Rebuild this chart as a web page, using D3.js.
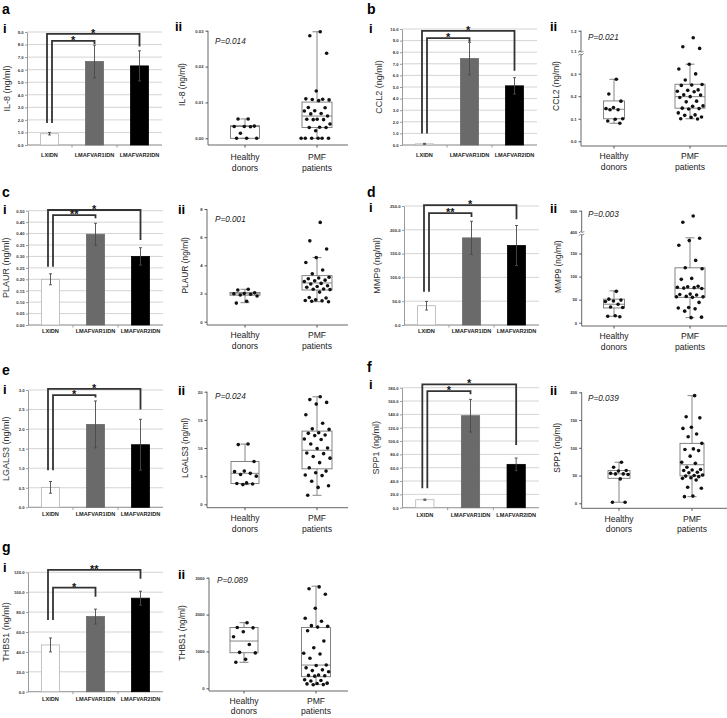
<!DOCTYPE html>
<html><head><meta charset="utf-8">
<script src="https://cdn.jsdelivr.net/npm/d3@7"></script>
<style>body{margin:0;background:#fff}svg{display:block}</style>
</head><body>
<svg id="fig" width="727" height="718"></svg>
<script>
// ---------------- DATA ----------------
const barCategories = ["LXIDN", "LMAFVAR1IDN", "LMAFVAR2IDN"];
const boxGroups = ["Healthy donors", "PMF patients"];
const boxGroupLines = [["Healthy", "donors"], ["PMF", "patients"]];

// a: IL-8
const il8Means = [0.9, 6.65, 6.3];
const il8Errors = [0.1, 1.3, 1.2];
const il8Brackets = [[0, 2, 1.75, 8.85, 7.85, "*"], [0, 1, 1.75, 8.3, 8.05, "*"]];
const il8BarTicks = [0, 1, 2, 3, 4, 5, 6, 7, 8, 9];
const il8Healthy = [0.0054, 0.0054, 0.0034, 0.0033, 0.0033, 0.0032, 0.0014, 0, 0, 0];
const il8Pmf = [0.0297, 0.0286, 0.0237, 0.0132, 0.011, 0.0109, 0.0108, 0.0107, 0.0105, 0.0086, 0.0085, 0.0077, 0.0076, 0.0069, 0.0068, 0.0062, 0.0053, 0.0053, 0.0052, 0.0052, 0.004, 0.0031, 0.003, 0.003, 0.0021, 0, 0, 0, 0, 0, 0];
const il8HealthyBox = [0, 0, 0.0033, 0.0035, 0.0054];
const il8PmfBox = [0, 0.003, 0.0062, 0.0101, 0.0297];
const il8BoxTicks = [0, 0.01, 0.02, 0.03];

// b: CCL2
const ccl2Means = [0.1, 7.45, 5.1];
const ccl2Errors = [0.04, 1.4, 0.7];
const ccl2Brackets = [[0, 2, 1.0, 9.83, 6.4, "*"], [0, 1, 1.0, 9.22, 8.9, "*"]];
const ccl2BarTicks = [0, 1, 2, 3, 4, 5, 6, 7, 8, 9, 10];
const ccl2Healthy = [0.275, 0.21, 0.178, 0.15, 0.145, 0.14, 0.14, 0.1, 0.098, 0.09, 0.08];
const ccl2Pmf = [1.165, 1.12, 1.112, 0.342, 0.321, 0.299, 0.272, 0.252, 0.25, 0.248, 0.228, 0.226, 0.222, 0.22, 0.206, 0.205, 0.198, 0.194, 0.178, 0.175, 0.157, 0.155, 0.147, 0.145, 0.143, 0.126, 0.117, 0.115, 0.108, 0.106, 0.1, 0.099];
const ccl2HealthyBox = [0.08, 0.1, 0.142, 0.179, 0.275];
const ccl2PmfBox = [0.1, 0.147, 0.198, 0.253, 0.342];
const ccl2BoxTicks = [0, 0.1, 0.2, 0.3, 1.1, 1.2];
const ccl2BoxBreak = [0, 0.39, 1.09, 1.2];

// c: PLAUR
const plaurMeans = [0.2, 0.397, 0.3];
const plaurErrors = [0.024, 0.048, 0.038];
const plaurBrackets = [[0, 2, 0.255, 0.503, 0.372, "*"], [0, 1, 0.255, 0.481, 0.467, "**"]];
const plaurBarTicks = [0, 0.05, 0.1, 0.15, 0.2, 0.25, 0.3, 0.35, 0.4, 0.45, 0.5];
const plaurHealthy = [2.3, 2.25, 2.05, 2.0, 1.98, 1.95, 1.9, 1.82, 1.45, 1.32];
const plaurPmf = [7.05, 5.74, 5.16, 4.55, 4.2, 3.67, 3.4, 3.15, 3.1, 3.05, 2.95, 2.9, 2.85, 2.72, 2.68, 2.55, 2.5, 2.45, 2.32, 2.3, 2.28, 2.1, 1.72, 1.68, 1.55, 1.5, 1.48, 1.45, 1.42];
const plaurHealthyBox = [1.35, 1.88, 1.98, 2.08, 2.3];
const plaurPmfBox = [1.42, 2.25, 2.75, 3.27, 4.55];
const plaurBoxTicks = [0, 2, 4, 6, 8];

// d: MMP9
const mmp9Means = [40.5, 183, 167];
const mmp9Errors = [9, 35, 42];
const mmp9Brackets = [[0, 2, 70, 252, 222, "*"], [0, 1, 70, 235, 227, "**"]];
const mmp9BarTicks = [0, 50, 100, 150, 200, 250];
const mmp9Healthy = [68, 51, 49, 47, 46, 40, 34, 33, 15, 14, 13];
const mmp9Pmf = [475, 446, 183, 178, 168, 135, 119, 117, 96, 94, 79, 78, 77, 76, 75, 74, 62, 61, 60, 57, 56, 56, 55, 44, 33, 32, 30, 25, 12, 11];
const mmp9HealthyBox = [14, 32, 40, 51, 69];
const mmp9PmfBox = [11, 55, 74, 119, 184];
const mmp9BoxTicks = [0, 50, 100, 150, 400, 500];
const mmp9BoxBreak = [0, 193, 395, 500];

// e: LGALS3
const lgals3Means = [0.51, 2.12, 1.6];
const lgals3Errors = [0.15, 0.6, 0.65];
const lgals3Brackets = [[0, 2, 0.95, 3.03, 2.5, "*"], [0, 1, 0.95, 2.87, 2.81, "*"]];
const lgals3BarTicks = [0, 0.5, 1, 1.5, 2, 2.5, 3];
const lgals3Healthy = [10.7, 10.6, 7.6, 5.9, 5.8, 5.5, 5.3, 5.0, 3.8, 3.7, 3.6, 3.5];
const lgals3Pmf = [19.1, 18.6, 18.1, 17.8, 15.9, 14.4, 13.4, 13.3, 12.7, 12.6, 12.3, 12.2, 11.6, 11.5, 10.7, 10.0, 9.9, 9.1, 9.0, 8.5, 8.2, 7.4, 6.5, 5.9, 5.6, 5.2, 5.1, 4.1, 3.3, 3.0, 1.6];
const lgals3HealthyBox = [3.5, 3.7, 5.5, 7.6, 10.7];
const lgals3PmfBox = [1.6, 6.3, 9.6, 13.0, 19.1];
const lgals3BoxTicks = [0, 5, 10, 15, 20];

// f: SPP1
const spp1Means = [12, 138, 65];
const spp1Errors = [1, 24.5, 9.5];
const spp1Brackets = [[0, 2, 29, 185, 94, "*"], [0, 1, 29, 175, 170, "*"]];
const spp1BarTicks = [0, 20, 40, 60, 80, 100, 120, 140, 160, 180];
const spp1Healthy = [74, 65, 59, 58, 54, 53, 53, 52, 44, 2, 2];
const spp1Pmf = [194, 156, 154, 137, 135, 125, 120, 108, 98, 97, 95, 85, 74, 72, 65, 61, 60, 59, 56, 55, 51, 50, 49, 48, 46, 45, 42, 29, 27, 13, 12];
const spp1HealthyBox = [2, 45, 53, 59, 74];
const spp1PmfBox = [12, 49.5, 69.5, 108, 194];
const spp1BoxTicks = [0, 50, 100, 150, 200];

// g: THBS1
const thbs1Means = [47, 75.5, 94];
const thbs1Errors = [7, 7.5, 7];
const thbs1Brackets = [[0, 2, 72, 122.5, 113.5, "**"], [0, 1, 72, 104.5, 95.5, "*"]];
const thbs1BarTicks = [0, 20, 40, 60, 80, 100, 120];
const thbs1Healthy = [1780, 1650, 1640, 1535, 1400, 1190, 975, 960, 785, 705];
const thbs1Pmf = [2750, 2700, 2550, 2170, 1900, 1820, 1700, 1680, 1660, 1560, 1282, 1100, 950, 930, 815, 630, 620, 555, 500, 480, 450, 360, 350, 340, 330, 230, 210, 200, 140, 130, 120, 100, 95];
const thbs1HealthyBox = [705, 965, 1282, 1650, 1780];
const thbs1PmfBox = [100, 315, 630, 1650, 2770];
const thbs1BoxTicks = [0, 1000, 2000, 3000];

// ---------------- LAYOUT ----------------
const FONT = "'Liberation Sans', Arial, Helvetica, sans-serif";
const panels = [
  { id: "a", means: il8Means, errors: il8Errors, brackets: il8Brackets, barTicks: il8BarTicks, barFmt: ".1f", label: "IL-8 (ng/ml)",
    healthy: il8Healthy, pmf: il8Pmf, hBox: il8HealthyBox, pBox: il8PmfBox, boxTicks: il8BoxTicks, boxFmt: ".2f", brk: null, p: "P=0.014",
    L: { letter: [2, 14], i: [3, 33], ii: [175, 31], bx0: 27, bx1: 162, bTop: 32, bBot: 145, catY: 157, bYl: 7,
         ax: 208, xEnd: 348, tTop: 30.7, tBot: 138.3, xAy: 145, cx: [245, 317], bw: [29, 30], labY: 160, boxYl: 182, pPos: [215, 44] } },
  { id: "b", means: ccl2Means, errors: ccl2Errors, brackets: ccl2Brackets, barTicks: ccl2BarTicks, barFmt: ".1f", label: "CCL2 (ng/ml)",
    healthy: ccl2Healthy, pmf: ccl2Pmf, hBox: ccl2HealthyBox, pBox: ccl2PmfBox, boxTicks: ccl2BoxTicks, boxFmt: ".1f", brk: ccl2BoxBreak, p: "P=0.021",
    L: { letter: [367, 14], i: [369, 33], ii: [550, 31], bx0: 402, bx1: 537, bTop: 29, bBot: 145, catY: 157, bYl: 379,
         ax: 581, xEnd: 727, tTop: 30.7, tBot: 141.3, xAy: 146, cx: [614, 690], bw: [21, 30], labY: 159, boxYl: 556, pPos: [588, 40] } },
  { id: "c", means: plaurMeans, errors: plaurErrors, brackets: plaurBrackets, barTicks: plaurBarTicks, barFmt: ".2f", label: "PLAUR (ng/ml)",
    healthy: plaurHealthy, pmf: plaurPmf, hBox: plaurHealthyBox, pBox: plaurPmfBox, boxTicks: plaurBoxTicks, boxFmt: "d", brk: null, p: "P=0.001",
    L: { letter: [2, 197], i: [3, 214], ii: [178, 214], bx0: 28, bx1: 163, bTop: 210.7, bBot: 325, catY: 333, bYl: 6,
         ax: 207, xEnd: 348, tTop: 209, tBot: 321.7, xAy: 325, cx: [245, 317], bw: [30, 30], labY: 338, boxYl: 185, pPos: [215, 222] } },
  { id: "d", means: mmp9Means, errors: mmp9Errors, brackets: mmp9Brackets, barTicks: mmp9BarTicks, barFmt: ".1f", label: "MMP9 (ng/ml)",
    healthy: mmp9Healthy, pmf: mmp9Pmf, hBox: mmp9HealthyBox, pBox: mmp9PmfBox, boxTicks: mmp9BoxTicks, boxFmt: "d", brk: mmp9BoxBreak, p: "P=0.003",
    L: { letter: [367, 197], i: [369, 212], ii: [550, 213], bx0: 404, bx1: 539, bTop: 206, bBot: 325, catY: 333, bYl: 377,
         ax: 581.7, xEnd: 727, tTop: 210.7, tBot: 322.7, xAy: 326, cx: [614, 690], bw: [21, 30], labY: 339, boxYl: 558, pPos: [588, 217] } },
  { id: "e", means: lgals3Means, errors: lgals3Errors, brackets: lgals3Brackets, barTicks: lgals3BarTicks, barFmt: ".1f", label: "LGALS3 (ng/ml)",
    healthy: lgals3Healthy, pmf: lgals3Pmf, hBox: lgals3HealthyBox, pBox: lgals3PmfBox, boxTicks: lgals3BoxTicks, boxFmt: "d", brk: null, p: "P=0.024",
    L: { letter: [2, 375], i: [3, 394], ii: [178, 395], bx0: 28, bx1: 163, bTop: 390, bBot: 507.3, catY: 515.5, bYl: 6,
         ax: 207, xEnd: 348, tTop: 391.7, tBot: 504.3, xAy: 507.7, cx: [245, 317], bw: [28, 30], labY: 521, boxYl: 185, pPos: [215, 399] } },
  { id: "f", means: spp1Means, errors: spp1Errors, brackets: spp1Brackets, barTicks: spp1BarTicks, barFmt: ".1f", label: "SPP1 (ng/ml)",
    healthy: spp1Healthy, pmf: spp1Pmf, hBox: spp1HealthyBox, pBox: spp1PmfBox, boxTicks: spp1BoxTicks, boxFmt: "d", brk: null, p: "P=0.039",
    L: { letter: [367, 372], i: [369, 389], ii: [550, 395], bx0: 402, bx1: 539, bTop: 387.7, bBot: 507.7, catY: 516.5, bYl: 376,
         ax: 581.7, xEnd: 727, tTop: 392.3, tBot: 503.3, xAy: 508.3, cx: [619, 692], bw: [22, 24], labY: 521.5, boxYl: 557, pPos: [588, 401] } },
  { id: "g", means: thbs1Means, errors: thbs1Errors, brackets: thbs1Brackets, barTicks: thbs1BarTicks, barFmt: ".1f", label: "THBS1 (ng/ml)",
    healthy: thbs1Healthy, pmf: thbs1Pmf, hBox: thbs1HealthyBox, pBox: thbs1PmfBox, boxTicks: thbs1BoxTicks, boxFmt: "d", brk: null, p: "P=0.089",
    L: { letter: [2, 552], i: [3, 572], ii: [178, 579], bx0: 28, bx1: 163, bTop: 572.3, bBot: 691.7, catY: 700.5, bYl: 6,
         ax: 209, xEnd: 348, tTop: 577.7, tBot: 688.3, xAy: 691, cx: [244, 316], bw: [28, 29], labY: 703.5, boxYl: 182, pPos: [217, 583] } }
];

const barFills = ["#ffffff", "#6a6a6a", "#000000"];
const barStrokes = ["#b5b5b5", "#6a6a6a", "#000000"];

const svg = d3.select("#fig").attr("font-family", FONT);
svg.append("rect").attr("width", 727).attr("height", 718).attr("fill", "#fff");

function swarm(values, y, half, r) {
  const pts = values.map(v => ({ v, y: y(v) }));
  const order = pts.slice().sort((a, b) => a.y - b.y);
  const placed = [];
  const minD = 2 * r + 0.3;
  order.forEach((p, k) => {
    const pref = ((((k + 1) * 0.618034) % 1) - 0.5) * 2 * half * 0.85;
    let best = pref;
    for (let s = 0; s <= 80; s++) {
      const off = pref + (s % 2 ? 1 : -1) * Math.ceil(s / 2) * 0.6;
      if (Math.abs(off) > half) continue;
      if (placed.every(q => (q.x - off) ** 2 + (q.y - p.y) ** 2 >= minD * minD)) { best = off; break; }
    }
    p.x = best;
    placed.push(p);
  });
  return pts;
}

function drawBar(g, P) {
  const L = P.L;
  const maxV = d3.max(P.barTicks);
  const y = d3.scaleLinear().domain([0, maxV]).range([L.bBot, L.bTop]);
  const x = d3.scaleBand().domain(barCategories).range([L.bx0, L.bx1]);
  const bw = x.bandwidth();

  // gridlines
  g.append("g").selectAll("line").data(P.barTicks).join("line")
    .attr("x1", L.bx0).attr("x2", L.bx1)
    .attr("y1", d => y(d)).attr("y2", d => y(d))
    .attr("stroke", "#cfcfcf").attr("stroke-width", 0.9);

  // y axis
  const ya = g.append("g").attr("transform", `translate(${L.bx0},0)`)
    .call(d3.axisLeft(y).tickValues(P.barTicks).tickFormat(d3.format(P.barFmt)).tickSize(2).tickSizeOuter(0).tickPadding(1.5));
  ya.select(".domain").attr("stroke", "#9a9a9a");
  ya.selectAll(".tick line").attr("stroke", "#9a9a9a");
  ya.selectAll(".tick text").attr("font-size", 4.2).attr("font-weight", "bold").attr("fill", "#333").attr("font-family", FONT);

  // x axis baseline with boundary ticks
  g.append("line").attr("x1", L.bx0).attr("x2", L.bx1).attr("y1", L.bBot).attr("y2", L.bBot)
    .attr("stroke", "#9a9a9a").attr("stroke-width", 1);
  g.append("g").selectAll("line").data(barCategories.slice(1)).join("line")
    .attr("x1", d => x(d)).attr("x2", d => x(d))
    .attr("y1", L.bBot).attr("y2", L.bBot + 2.5).attr("stroke", "#9a9a9a");
  g.append("g").selectAll("text").data(barCategories).join("text")
    .attr("x", d => x(d) + bw / 2).attr("y", L.catY)
    .attr("text-anchor", "middle").attr("font-size", 5.6).attr("font-weight", "bold").attr("fill", "#222")
    .text(d => d);

  // bars
  g.append("g").selectAll("rect").data(P.means).join("rect")
    .attr("x", (d, i) => x(barCategories[i]) + bw * 0.3)
    .attr("width", bw * 0.4)
    .attr("y", d => y(d))
    .attr("height", d => L.bBot - y(d))
    .attr("fill", (d, i) => barFills[i])
    .attr("stroke", (d, i) => barStrokes[i]).attr("stroke-width", 0.8);

  // error bars
  const eb = g.append("g").attr("stroke", "#4a4a4a").attr("stroke-width", 0.9);
  P.means.forEach((m, i) => {
    const cx = x(barCategories[i]) + bw / 2;
    const e = P.errors[i];
    eb.append("line").attr("x1", cx).attr("x2", cx).attr("y1", y(m - e)).attr("y2", y(m + e));
    eb.append("line").attr("x1", cx - 1.5).attr("x2", cx + 1.5).attr("y1", y(m + e)).attr("y2", y(m + e));
    eb.append("line").attr("x1", cx - 1.5).attr("x2", cx + 1.5).attr("y1", y(m - e)).attr("y2", y(m - e));
  });

  // significance brackets
  P.brackets.forEach(b => {
    const [from, to, start, top, end, lab] = b;
    const c0 = x(barCategories[from]) + bw / 2 + (to === 2 ? -2.5 : 2.5);
    const c1 = x(barCategories[to]) + bw / 2;
    g.append("path")
      .attr("d", `M${c0},${y(start)}V${y(top)}H${c1}V${y(end)}`)
      .attr("fill", "none").attr("stroke", "#333").attr("stroke-width", 1.8);
    g.append("text").attr("x", (c0 + c1) / 2).attr("y", y(top) + 3)
      .attr("text-anchor", "middle").attr("font-size", 11).attr("font-weight", "bold").attr("fill", "#111")
      .text(lab);
  });

  // y label
  g.append("text").attr("transform", `translate(${L.bYl},${(L.bTop + L.bBot) / 2}) rotate(-90)`)
    .attr("text-anchor", "middle").attr("dominant-baseline", "central")
    .attr("font-size", 9).attr("fill", "#333").text(P.label);
}

function drawBox(g, P) {
  const L = P.L;
  let y;
  if (P.brk) {
    const fr = [0, 0.795, 0.80, 1];
    y = d3.scaleLinear().domain(P.brk).range(fr.map(f => L.tBot + (L.tTop - L.tBot) * f));
  } else {
    y = d3.scaleLinear().domain([0, d3.max(P.boxTicks)]).range([L.tBot, L.tTop]);
  }
  const x = d3.scaleOrdinal().domain(boxGroups).range(L.cx);

  // y axis
  const ya = g.append("g").attr("transform", `translate(${L.ax},0)`)
    .call(d3.axisLeft(y).tickValues(P.boxTicks).tickFormat(d3.format(P.boxFmt)).tickSize(2.5).tickSizeOuter(0).tickPadding(2));
  ya.select(".domain").remove();
  ya.selectAll(".tick line").attr("stroke", "#555");
  ya.selectAll(".tick text").attr("font-size", 4.2).attr("font-weight", "bold").attr("fill", "#333").attr("font-family", FONT);
  g.append("line").attr("x1", L.ax).attr("x2", L.ax).attr("y1", L.tTop).attr("y2", L.xAy)
    .attr("stroke", "#555").attr("stroke-width", 0.9);

  // axis break marker
  if (P.brk) {
    const yb = (y(P.brk[1]) + y(P.brk[2])) / 2;
    g.append("rect").attr("x", L.ax - 2).attr("y", yb - 1.5).attr("width", 4).attr("height", 3).attr("fill", "#fff");
    [-1.3, 1.3].forEach(dy => {
      g.append("path").attr("d", `M${L.ax - 2.5},${yb + dy + 1}q1.2,-2.4 2.5,-1q1.3,1.4 2.5,-1`)
        .attr("fill", "none").attr("stroke", "#555").attr("stroke-width", 0.7);
    });
  }

  // x axis
  g.append("line").attr("x1", L.ax).attr("x2", L.xEnd).attr("y1", L.xAy).attr("y2", L.xAy)
    .attr("stroke", "#555").attr("stroke-width", 0.9);
  g.append("g").selectAll("line").data(boxGroups).join("line")
    .attr("x1", d => x(d)).attr("x2", d => x(d)).attr("y1", L.xAy).attr("y2", L.xAy + 2.5)
    .attr("stroke", "#555");
  boxGroups.forEach((grp, gi) => {
    boxGroupLines[gi].forEach((line, li) => {
      g.append("text").attr("x", x(grp)).attr("y", L.labY + li * 10.5)
        .attr("text-anchor", "middle").attr("font-size", 8.6).attr("fill", "#222").text(line);
    });
  });

  // boxes
  const stats = [P.hBox, P.pBox];
  const pts = [P.healthy, P.pmf];
  boxGroups.forEach((grp, gi) => {
    const [lo, q1, med, q3, hi] = stats[gi];
    const cx = x(grp);
    const w = L.bw[gi];
    const bg = g.append("g").attr("stroke", "#777").attr("stroke-width", 0.9).attr("fill", "none");
    bg.append("line").attr("x1", cx).attr("x2", cx).attr("y1", y(q3)).attr("y2", y(hi));
    bg.append("line").attr("x1", cx).attr("x2", cx).attr("y1", y(q1)).attr("y2", y(lo));
    bg.append("line").attr("x1", cx - 4.5).attr("x2", cx + 4.5).attr("y1", y(hi)).attr("y2", y(hi));
    bg.append("line").attr("x1", cx - 4.5).attr("x2", cx + 4.5).attr("y1", y(lo)).attr("y2", y(lo));
    bg.append("rect").attr("x", cx - w / 2).attr("width", w).attr("y", y(q3)).attr("height", Math.max(0.5, y(q1) - y(q3)));
    bg.append("line").attr("x1", cx - w / 2).attr("x2", cx + w / 2).attr("y1", y(med)).attr("y2", y(med));

    const sw = swarm(pts[gi], y, w / 2 + 1, 1.8);
    g.append("g").selectAll("circle").data(sw).join("circle")
      .attr("cx", d => cx + d.x).attr("cy", d => d.y).attr("r", 1.8).attr("fill", "#111");
  });

  // y label
  g.append("text").attr("transform", `translate(${L.boxYl},${(L.tTop + L.tBot) / 2}) rotate(-90)`)
    .attr("text-anchor", "middle").attr("dominant-baseline", "central")
    .attr("font-size", 8.4).attr("fill", "#222").text(P.label);

  // P value
  g.append("text").attr("x", L.pPos[0]).attr("y", L.pPos[1])
    .attr("font-size", 8.2).attr("font-style", "italic").attr("fill", "#222").text(P.p);
}

panels.forEach(P => {
  const g = svg.append("g");
  const L = P.L;
  g.append("text").attr("x", L.letter[0]).attr("y", L.letter[1]).attr("font-size", 14).attr("font-weight", "bold").text(P.id);
  g.append("text").attr("x", L.i[0]).attr("y", L.i[1]).attr("font-size", 13).attr("font-weight", "bold").text("i");
  g.append("text").attr("x", L.ii[0]).attr("y", L.ii[1]).attr("font-size", 13).attr("font-weight", "bold").text("ii");
  drawBar(g, P);
  drawBox(g, P);
});
</script>
</body></html>
